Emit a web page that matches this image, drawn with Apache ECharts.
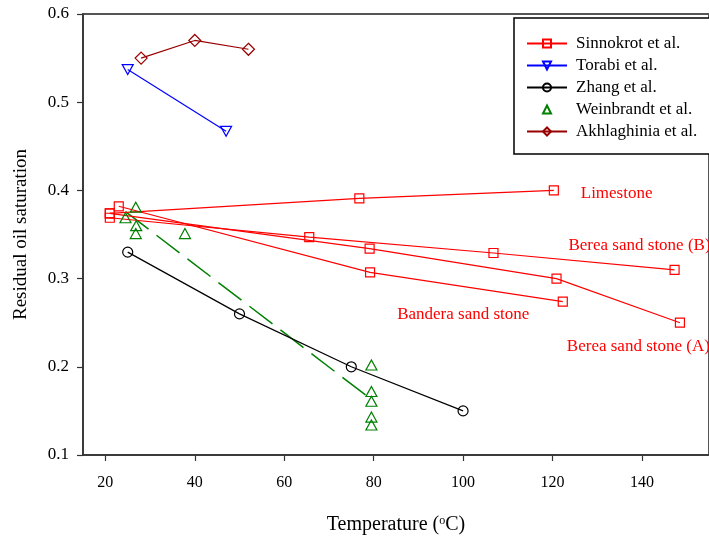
<!DOCTYPE html>
<html>
<head>
<meta charset="utf-8">
<title>Residual oil saturation vs temperature</title>
<script src="https://cdn.jsdelivr.net/npm/echarts@6/dist/echarts.min.js"></script>
<style>
  html, body { margin: 0; padding: 0; background: #ffffff; }
  #chart { width: 709px; height: 540px; }
</style>
</head>
<body>
<div id="chart"></div>
<script>
// Temperature (°C) vs residual oil saturation, by study
const xTicks = [20, 40, 60, 80, 100, 120, 140];
const yTicks = [0.1, 0.2, 0.3, 0.4, 0.5, 0.6];

// Sinnokrot et al. — one curve per rock type
const sinnLimestone = [[21, 0.374], [76.8, 0.391], [120.3, 0.400]];
const sinnBereaB = [[21, 0.369], [65.6, 0.347], [106.8, 0.329], [147.3, 0.310]];
const sinnBereaA = [[21, 0.374], [79.1, 0.334], [120.9, 0.300], [148.5, 0.250]];
const sinnBandera = [[23, 0.382], [79.2, 0.307], [122.3, 0.274]];

const torabi = [[25, 0.537], [47, 0.467]];
const zhang = [[25, 0.330], [50, 0.260], [75, 0.200], [100, 0.150]];
const weinbrandt = [
  [26.8, 0.381], [24.5, 0.369], [26.9, 0.360], [26.8, 0.351], [37.8, 0.351],
  [79.5, 0.202], [79.5, 0.172], [79.5, 0.161], [79.5, 0.143], [79.5, 0.134]
];
const weinbrandtTrend = [[24.5, 0.376], [79.5, 0.163]];
const akhlaghinia = [[28, 0.550], [40, 0.570], [52, 0.560]];

const rockNames = ['Limestone', 'Berea sand stone (B)', 'Berea sand stone (A)', 'Bandera sand stone'];

const FONT = '"Liberation Serif", "Times New Roman", serif';
const RED = '#ff0000';
const BLUE = '#0000ff';
const BLACK = '#000000';
const GREEN = '#008000';
const DARKRED = '#990000';
const HOLLOW = 'rgba(255,255,255,0)';

function lineSeries(name, data, color, symbol, size, extra) {
  return Object.assign({
    name: name,
    type: 'line',
    data: data,
    symbol: symbol,
    symbolSize: size,
    showAllSymbol: true,
    itemStyle: { color: HOLLOW, borderColor: color, borderWidth: 1.2 },
    lineStyle: { color: color, width: 1.2 },
    emphasis: { disabled: true },
    z: 3
  }, extra || {});
}

// Sinnokrot curve with its rock-type caption hung on the last point
function rockSeries(data, caption, labelPos) {
  const pts = data.map((p, i) => i === data.length - 1
    ? { value: p, label: { show: true, formatter: caption, position: labelPos,
        color: RED, fontFamily: FONT, fontSize: 17, align: 'left', verticalAlign: 'middle' } }
    : p);
  return lineSeries('Sinnokrot et al.', pts, RED, 'rect', 9);
}

const chart = echarts.init(document.getElementById('chart'), null, { renderer: 'canvas' });

chart.setOption({
  animation: false,
  backgroundColor: '#ffffff',
  textStyle: { fontFamily: FONT },
  grid: {
    left: 83, top: 14, right: -13, bottom: 83,
    show: true, borderColor: '#555555', borderWidth: 2, backgroundColor: 'transparent'
  },
  legend: {
    data: ['Sinnokrot et al.', 'Torabi et al.', 'Zhang et al.', 'Weinbrandt et al.', 'Akhlaghinia et al.'],
    orient: 'vertical',
    left: 514, top: 18,
    padding: [17, 30, 14, 12],
    itemWidth: 40, itemHeight: 10, itemGap: 5,
    backgroundColor: '#ffffff',
    borderColor: '#000000', borderWidth: 1.5,
    selectedMode: false,
    textStyle: { fontFamily: FONT, fontSize: 17, color: '#000000', padding: [0, 0, 0, 4] }
  },
  xAxis: {
    type: 'value',
    min: 15, max: 155,
    name: 'Temperature ({sup|o}C)',
    nameLocation: 'middle',
    nameGap: 60,
    nameTextStyle: {
      fontFamily: FONT, fontSize: 20, color: '#000000',
      rich: { sup: { fontFamily: FONT, fontSize: 12, verticalAlign: 'top', padding: [0, 0, 6, 0], color: '#000000' } }
    },
    axisLine: { show: true, lineStyle: { color: '#333333', width: 1.5 } },
    axisTick: { show: true, inside: false, length: 6, customValues: xTicks, lineStyle: { color: '#333333', width: 1.2 } },
    axisLabel: { customValues: xTicks, margin: 20, fontFamily: FONT, fontSize: 16, color: '#000000' },
    splitLine: { show: false }
  },
  yAxis: {
    type: 'value',
    min: 0.1, max: 0.6, interval: 0.1,
    name: 'Residual oil saturation',
    nameLocation: 'middle',
    nameGap: 52,
    nameTextStyle: { fontFamily: FONT, fontSize: 19, color: '#000000' },
    axisLine: { show: true, lineStyle: { color: '#333333', width: 1.5 } },
    axisTick: { show: true, inside: false, length: 6, lineStyle: { color: '#333333', width: 1.2 } },
    axisLabel: {
      margin: 14, fontFamily: FONT, fontSize: 17, color: '#000000',
      customValues: yTicks,
      formatter: v => v.toFixed(1)
    },
    splitLine: { show: false }
  },
  series: [
    rockSeries(sinnLimestone, rockNames[0], [32, 8]),
    rockSeries(sinnBereaB, rockNames[1], [-101, -19.5]),
    rockSeries(sinnBereaA, rockNames[2], [-108, 29]),
    rockSeries(sinnBandera, rockNames[3], [-160.5, 18.5]),
    lineSeries('Torabi et al.', torabi, BLUE, 'triangle', [11, 10], { symbolRotate: 180 }),
    lineSeries('Zhang et al.', zhang, BLACK, 'circle', 10),
    {
      name: 'Weinbrandt trend',
      type: 'line',
      data: weinbrandtTrend,
      symbol: 'none',
      lineStyle: { color: GREEN, width: 1.5, type: [29, 10] },
      emphasis: { disabled: true },
      z: 2
    },
    // measured points only; the line itself is not drawn
    lineSeries('Weinbrandt et al.', weinbrandt, GREEN, 'triangle', [11, 10], {
      lineStyle: { color: GREEN, width: 0, opacity: 0 },
      z: 4
    }),
    lineSeries('Akhlaghinia et al.', akhlaghinia, DARKRED, 'diamond', 12)
  ]
});
</script>
</body>
</html>
